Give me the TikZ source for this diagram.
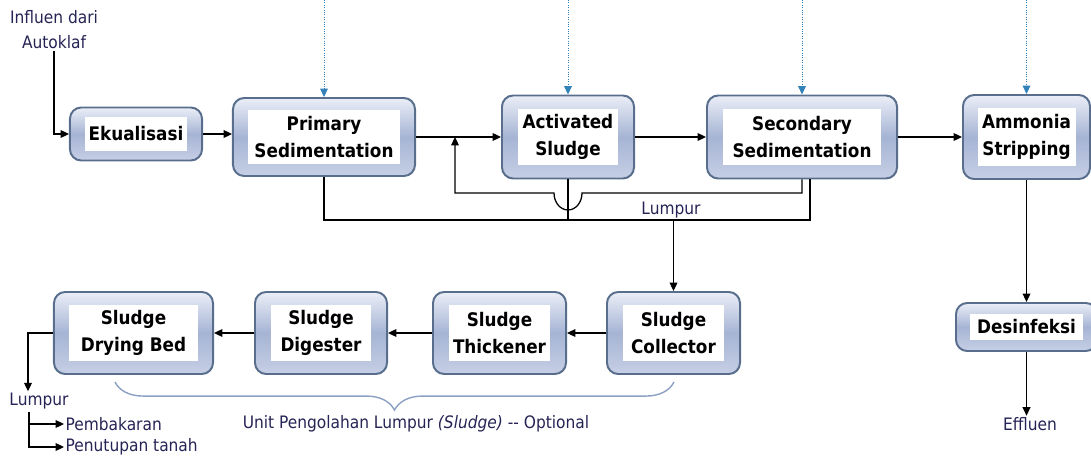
\documentclass[tikz,border=0pt]{standalone}
\usepackage{fontspec}
\setmainfont{DejaVu Sans Condensed}
\usetikzlibrary{arrows.meta,decorations.pathreplacing}

\definecolor{boxline}{RGB}{88,110,140}
\definecolor{boxtop}{RGB}{234,238,247}
\definecolor{boxmid}{RGB}{166,180,212}
\definecolor{boxbot}{RGB}{198,207,229}
\definecolor{feed}{RGB}{50,130,185}
\definecolor{notecol}{RGB}{38,36,84}
\definecolor{bracecol}{RGB}{140,160,195}

\tikzset{
  unit/.style={draw=boxline, line width=1.4pt, rounded corners=0.28cm,
    top color=boxtop, bottom color=boxbot, middle color=boxmid},
  unittext/.style={fill=white, inner sep=0pt, align=center,
    font=\fontsize{13.3}{19}\selectfont\bfseries},
  flow/.style={-{Triangle[length=6pt,width=5.5pt]}, line width=0.9pt},
  feedline/.style={densely dotted, draw=feed, line width=0.7pt,
    -{Triangle[length=6pt,width=5.5pt]}, color=feed},
  note/.style={text=notecol, inner sep=1pt,
    font=\fontsize{12.2}{17.7}\selectfont},
  bracket/.style={decorate, decoration={brace,mirror,amplitude=20pt},
    draw=bracecol, line width=1pt},
}

\begin{document}
\begin{tikzpicture}[x=0.025cm,y=-0.025cm]
\clip (0,0) rectangle (1091,459);

% top row
\node[unit, minimum width=3.3cm, minimum height=1.325cm] (ekual) at (136,134) {};
\node[unittext, minimum width=2.55cm, minimum height=0.85cm] (ekualT) at (ekual) {Ekualisasi};
\node[unit, minimum width=4.55cm, minimum height=1.95cm] (prim) at (324,137) {};
\node[unittext, minimum width=3.775cm, minimum height=1.35cm] (primT) at (prim) {Primary\\Sedimentation};
\node[unit, minimum width=3.3cm, minimum height=2.075cm] (act) at (568,137) {};
\node[unittext, minimum width=2.5cm, minimum height=1.4cm] (actT) at (act) {Activated\\Sludge};
\node[unit, minimum width=4.75cm, minimum height=2.075cm] (sec) at (802,137) {};
\node[unittext, minimum width=3.95cm, minimum height=1.4cm] (secT) at (sec) {Secondary\\Sedimentation};
\node[unit, minimum width=3.175cm, minimum height=2.1cm] (amm) at (1026.5,137) {};
\node[unittext, minimum width=2.45cm, minimum height=1.425cm] (ammT) at (amm) {Ammonia\\Stripping};

% bottom row
\node[unit, minimum width=3.975cm, minimum height=2.05cm] (dry) at (133.5,333) {};
\node[unittext, minimum width=3.2cm, minimum height=1.4cm] (dryT) at (dry) {Sludge\\Drying Bed};
\node[unit, minimum width=3.3cm, minimum height=2.05cm] (dig) at (321,333) {};
\node[unittext, minimum width=2.5cm, minimum height=1.4cm] (digT) at (dig) {Sludge\\Digester};
\node[unit, minimum width=3.325cm, minimum height=2.05cm] (thick) at (499.5,333) {};
\node[unittext, minimum width=2.525cm, minimum height=1.375cm] (thickT) at (thick) {Sludge\\Thickener};
\node[unit, minimum width=3.325cm, minimum height=2.05cm] (coll) at (673.5,333) {};
\node[unittext, minimum width=2.5cm, minimum height=1.4cm] (collT) at (coll) {Sludge\\Collector};
\node[unit, minimum width=3.525cm, minimum height=1.2cm] (des) at (1026.5,327) {};
\node[unittext, minimum width=2.825cm, minimum height=0.65cm] (desT) at (des) {Desinfeksi};

% labels
\node[note, align=center] (infl) at (54,30) {Influen dari\\Autoklaf};
\node[note] (lumpA) at (671,210) {Lumpur};
\node[note] (lumpB) at (39,401) {Lumpur};
\node[note, anchor=west] (pemb) at (64,424) {Pembakaran};
\node[note, anchor=west] (penut) at (64,447) {Penutupan tanah};
\node[note] (effl) at (1030,424) {Effluen};
\node[note] (opt) at (416,424) {Unit Pengolahan Lumpur \textit{(Sludge)} {-}{-} Optional};

% dosing from above
\foreach \b in {prim,act,sec,amm} {
  \coordinate (\b-in) at (\b.north |- 0,0);
  \draw[feedline] (\b-in) -- (\b.north);
}

% main line
\draw[flow] (infl.south) |- (ekual.west);
\draw[flow] (ekual.east) -- (ekual.east -| prim.west);
\draw[flow] (prim) -- (act);
\draw[flow] (act) -- (sec);
\draw[flow] (sec) -- (amm);
\draw[flow] (amm) -- (des);
\draw[flow] (des) -- (des |- effl.north);

% return sludge
\coordinate (jn) at (455,137);
\coordinate (hop) at (act.south |- 0,193);
\draw[flow] (sec.south) |- ([xshift=0.35cm]hop)
  arc[start angle=0, end angle=180, x radius=14, y radius=17]
  -- (jn |- hop) -- (jn);

% sludge collection
\coordinate (bus) at (coll.north |- 0,220);
\coordinate (secR) at ([xshift=0.2cm]sec.south);
\draw[line width=0.9pt] (prim.south) |- (secR |- bus) -- (secR);
\draw[line width=0.9pt] (act.south) -- (act.south |- bus);
\draw[flow] (bus) -- (coll);

\draw[flow] (coll) -- (thick);
\draw[flow] (thick) -- (dig);
\draw[flow] (dig) -- (dry);
\draw[flow] (dry.west) -| (lumpB.north -| 28,0);
\coordinate (br) at (29,412);
\draw[flow] (br) |- (pemb.west);
\draw[flow] (br) |- (penut.west);

\draw[bracket] (115,382) -- (674,382);

\end{tikzpicture}
\end{document}
